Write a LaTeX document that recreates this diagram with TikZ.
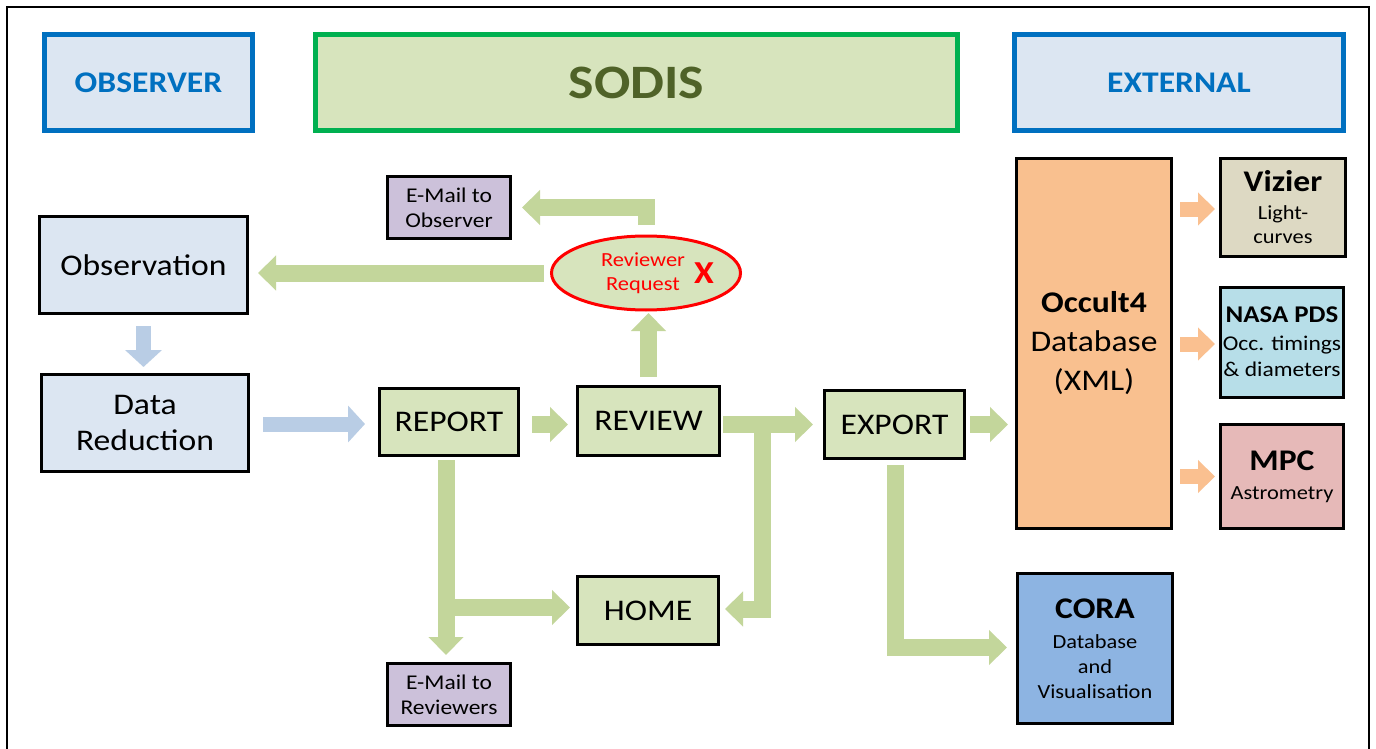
\documentclass[tikz,border=0pt]{standalone}
\usepackage{fontspec}
\setmainfont{Carlito}[FakeStretch=1.12]
\usetikzlibrary{arrows.meta,shapes.geometric,calc}
\definecolor{hblue}{HTML}{0070C0}
\definecolor{lblue}{HTML}{DCE6F2}
\definecolor{hgreen}{HTML}{00B050}
\definecolor{lgreen}{HTML}{D7E4BD}
\definecolor{olive}{HTML}{4F6228}
\definecolor{agreen}{HTML}{C3D69B}
\definecolor{ablue}{HTML}{B9CDE5}
\definecolor{aorange}{HTML}{FAC090}
\definecolor{lpurple}{HTML}{CCC1DA}
\definecolor{occfill}{HTML}{F9C08F}
\definecolor{vizfill}{HTML}{DDD9C3}
\definecolor{nasafill}{HTML}{B7DEE8}
\definecolor{mpcfill}{HTML}{E6B9B8}
\definecolor{corafill}{HTML}{8DB4E2}
\definecolor{rred}{HTML}{FF0000}
\begin{document}
\begin{tikzpicture}[x=1pt,y=-1pt,
  bighead/.style={line width=5pt, inner sep=0pt, outer sep=0pt, font=\fontsize{30}{36}\selectfont\bfseries},
  boxb/.style={draw=black, line width=3pt, inner sep=0pt, outer sep=0pt, align=center, font=\fontsize{30}{36}\selectfont},
  mail/.style={boxb, fill=lpurple, minimum width=123pt, minimum height=62pt, font=\fontsize{21}{25}\selectfont},
  gbox/.style={boxb, fill=lgreen},
  garrow/.style={draw=agreen, line width=17pt, -{Triangle[width=34pt,length=18pt]}},
  barrow/.style={draw=ablue, line width=15pt, -{Triangle[width=36pt,length=17pt]}},
  oarrow/.style={draw=aorange, line width=15pt, -{Triangle[width=32pt,length=17pt]}}]
\useasboundingbox (0,0) rectangle (1376,749);
\fill[white] (0,0) rectangle (1376,749);
\draw[line width=2pt] (7,760) -- (7,7) -- (1369,7) -- (1369,760);

% headers
\node[bighead, draw=hblue, fill=lblue, text=hblue, minimum width=208pt, minimum height=96pt] (obshead) at (148.5,82.5) {OBSERVER};
\node[bighead, draw=hgreen, fill=lgreen, text=olive, minimum width=642pt, minimum height=96pt, font=\fontsize{48}{50}\selectfont\bfseries] (sodis) at (636.5,82.5) {SODIS};
\node[bighead, draw=hblue, fill=lblue, text=hblue, minimum width=329pt, minimum height=96pt] (exthead) at (1179,82.5) {EXTERNAL};

% observer side
\node[boxb, fill=lblue, minimum width=208pt, minimum height=97pt] (obs) at (143.5,265) {Observation};
\node[boxb, fill=lblue, minimum width=207pt, minimum height=97pt] (dr) at (145,423) {Data\\Reduction};

% SODIS side
\node[gbox, minimum width=139pt, minimum height=67pt] (report) at (449,422) {REPORT};
\node[gbox, minimum width=142pt, minimum height=69pt] (review) at (648.5,421) {REVIEW};
\node[gbox, minimum width=140pt, minimum height=68pt] (export) at (894.5,424.5) {EXPORT};
\node[gbox, minimum width=141pt, minimum height=68pt] (home) at (648,610.5) {HOME};
\node[mail] (emobs) at (449,207.5) {E-Mail to\\Observer};
\node[mail] (emrev) at (449,694.5) {E-Mail to\\Reviewers};
\node[ellipse, draw=rred, line width=3pt, fill=lgreen, minimum width=189pt, minimum height=74pt, inner sep=0pt, outer sep=0pt] (rr) at (646,273) {};
\node[text=rred, align=center, font=\fontsize{20}{24}\selectfont, inner sep=0pt] (rrtext) at (643,273) {Reviewer\\Request};
\node[text=rred, font=\fontsize{32}{32}\selectfont\bfseries, inner sep=0pt] (rrx) at (704,273) {X};

% external side
\node[boxb, fill=occfill, minimum width=155pt, minimum height=370pt, font=\fontsize{30}{39}\selectfont] (occ) at (1094,343.5) {{\bfseries Occult4}\\Database\\(XML)};
\node[boxb, fill=vizfill, minimum width=125pt, minimum height=98pt, font=\fontsize{20}{24}\selectfont] (viz) at (1283,207.5) {{\fontsize{30}{30}\selectfont\bfseries Vizier}\\[4pt]Light-\\curves};
\node[boxb, fill=nasafill, minimum width=123pt, minimum height=110pt, font=\fontsize{21}{26}\selectfont] (nasa) at (1282,342) {{\fontsize{24}{26}\selectfont\bfseries NASA PDS}\\[2pt]Occ. timings\\\& diameters};
\node[boxb, fill=mpcfill, minimum width=123pt, minimum height=104pt, font=\fontsize{20}{24}\selectfont] (mpc) at (1282,476.5) {{\fontsize{30}{30}\selectfont\bfseries MPC}\\[5pt]Astrometry};
\node[boxb, fill=corafill, minimum width=155pt, minimum height=150pt, font=\fontsize{20}{25}\selectfont] (cora) at (1095,648.5) {{\fontsize{30}{30}\selectfont\bfseries CORA}\\[5pt]Database\\and\\Visualisation};

% arrows
\draw[barrow] ($(obs.south)+(0,12.5)$) -- ($(obs.south |- dr.north)+(0,-7.5)$);
\draw[barrow] ($(dr.east)+(14.5,1)$) -- ($(dr.east -| report.west)+(-14.5,1)$);
\draw[garrow] ($(report.east)+(13.5,2.5)$) -- ($(report.east -| review.west)+(-9.5,2.5)$);
\draw[garrow] ($(review.east)+(3.5,3.5)$) -- ($(review.east -| export.west)+(-11.5,3.5)$);
\draw[garrow] ($(review.east)+(43,3.5)$) |- ($(home.east)+(6.5,-1.5)$);
\draw[garrow] ($(report.south)+(-3,4.5)$) -- ($(report.south |- emrev.north)+(-3,-8.5)$);
\draw[garrow] ($(report.south |- home.west)+(-3,-3)$) -- ($(home.west)+(-7.5,-3)$);
\draw[garrow] ($(review.north)+(0,-9.5)$) -- ($(review.north |- rr.south)+(0,3)$);
\draw[garrow] ($(rr.west)+(-8,0)$) -- ($(rr.west -| obs.east)+(10.5,0)$);
\draw[garrow] ($(rr.north)+(0.5,-11)$) |- ($(emobs.east)+(11.5,0)$);
\draw[garrow] ($(export.east)+(5.5,0)$) -- ($(export.east -| occ.west)+(-8.5,0)$);
\draw[garrow] ($(export.south)+(1,6.5)$) |- ($(cora.west)+(-10.5,-1)$);
\draw[oarrow] ($(viz.west -| occ.east)+(8.5,1.5)$) -- ($(viz.west)+(-5.5,1.5)$);
\draw[oarrow] ($(nasa.west -| occ.east)+(8.5,2)$) -- ($(nasa.west)+(-5.5,2)$);
\draw[oarrow] ($(mpc.west -| occ.east)+(8.5,0)$) -- ($(mpc.west)+(-5.5,0)$);
\end{tikzpicture}
\end{document}
